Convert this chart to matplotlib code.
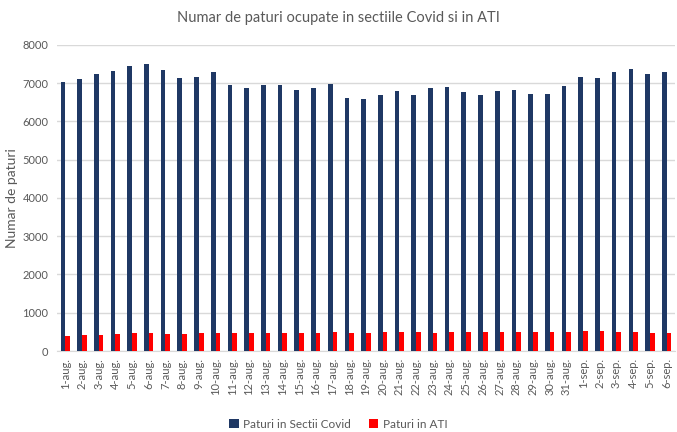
import matplotlib
matplotlib.use("Agg")
import matplotlib.pyplot as plt
import numpy as np

plt.rcParams['font.family'] = ['Lato', 'DejaVu Sans']

dates = ["1-aug.", "2-aug.", "3-aug.", "4-aug.", "5-aug.", "6-aug.", "7-aug.", "8-aug.", "9-aug.", "10-aug.",
         "11-aug.", "12-aug.", "13-aug.", "14-aug.", "15-aug.", "16-aug.", "17-aug.", "18-aug.", "19-aug.", "20-aug.",
         "21-aug.", "22-aug.", "23-aug.", "24-aug.", "25-aug.", "26-aug.", "27-aug.", "28-aug.", "29-aug.", "30-aug.",
         "31-aug.", "1-sep.", "2-sep.", "3-sep.", "4-sep.", "5-sep.", "6-sep."]
covid = [7040, 7100, 7230, 7330, 7440, 7490, 7350, 7130, 7170, 7280,
         6940, 6880, 6950, 6950, 6830, 6870, 6970, 6620, 6580, 6700,
         6800, 6680, 6880, 6910, 6760, 6690, 6790, 6810, 6730, 6710,
         6930, 7150, 7130, 7280, 7380, 7230, 7280]
ati = [398, 407, 425, 434, 460, 460, 451, 451, 460, 478,
       478, 478, 478, 469, 460, 478, 496, 478, 478, 487,
       496, 496, 478, 496, 487, 504, 496, 496, 487, 496,
       504, 522, 522, 504, 487, 478, 478]

fig = plt.figure(figsize=(6.77, 4.32), dpi=100)
ax = fig.add_axes([0.084, 0.1875, 0.913, 0.7085])

x = np.arange(len(dates))
w = 0.28
ax.bar(x - w/2, covid, width=w, color="#1F3864", label="Paturi in Sectii Covid", zorder=3)
ax.bar(x + w/2, ati, width=w, color="#FF0000", label="Paturi in ATI", zorder=3)

ax.set_xlim(-0.5, len(dates) - 0.5)
ax.set_ylim(0, 8000)
ax.set_yticks(range(0, 8001, 1000))
ax.yaxis.grid(True, color="#D9D9D9", linewidth=1, zorder=0)
ax.set_axisbelow(True)
for s in ["top", "right", "left"]:
    ax.spines[s].set_visible(False)
ax.spines["bottom"].set_color("#D9D9D9")
ax.tick_params(axis="y", length=0, labelsize=8, labelcolor="#595959", pad=6)
ax.tick_params(axis="x", length=0, labelsize=8, labelcolor="#595959", pad=5)
ax.set_xticks(x)
ax.set_xticklabels(dates, rotation=90)
ax.set_ylabel("Numar de paturi", fontsize=10, color="#595959", labelpad=3)

fig.suptitle("Numar de paturi ocupate in sectiile Covid si in ATI", fontsize=10.5, color="#595959", y=0.975)

fig.legend(loc="lower center", bbox_to_anchor=(0.5, -0.02), ncol=2, frameon=False,
           fontsize=8.5, labelcolor="#595959", handlelength=0.8, handleheight=0.8, columnspacing=1.5, handletextpad=0.4)

fig.savefig("out.png", dpi=100)
